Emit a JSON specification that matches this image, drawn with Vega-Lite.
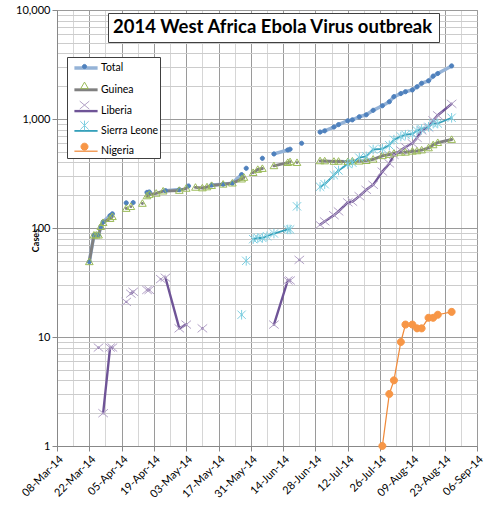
{
  "$schema": "https://vega.github.io/schema/vega-lite/v6.json",
  "width": 420,
  "height": 436,
  "autosize": "none",
  "padding": {"left": 57, "top": 10, "right": 23, "bottom": 60},
  "background": "white",
  "config": {"view": {"stroke": "#999999"}, "font": "Lato"},
  "data": {
    "values": [
      {"date": "2014/03/22", "series": "Total", "cases": 49},
      {"date": "2014/03/24", "series": "Total", "cases": 86},
      {"date": "2014/03/25", "series": "Total", "cases": 86},
      {"date": "2014/03/26", "series": "Total", "cases": 86},
      {"date": "2014/03/27", "series": "Total", "cases": 103},
      {"date": "2014/03/28", "series": "Total", "cases": 114},
      {"date": "2014/03/31", "series": "Total", "cases": 130},
      {"date": "2014/04/01", "series": "Total", "cases": 135},
      {"date": "2014/04/04", "series": "Total", "cases": null},
      {"date": "2014/04/07", "series": "Total", "cases": 170},
      {"date": "2014/04/08", "series": "Total", "cases": null},
      {"date": "2014/04/10", "series": "Total", "cases": 171},
      {"date": "2014/04/12", "series": "Total", "cases": null},
      {"date": "2014/04/16", "series": "Total", "cases": 212},
      {"date": "2014/04/17", "series": "Total", "cases": 214},
      {"date": "2014/04/20", "series": "Total", "cases": null},
      {"date": "2014/04/24", "series": "Total", "cases": 220},
      {"date": "2014/04/30", "series": "Total", "cases": 225},
      {"date": "2014/05/02", "series": "Total", "cases": null},
      {"date": "2014/05/04", "series": "Total", "cases": 243},
      {"date": "2014/05/07", "series": "Total", "cases": null},
      {"date": "2014/05/14", "series": "Total", "cases": 248},
      {"date": "2014/05/19", "series": "Total", "cases": 252},
      {"date": "2014/05/23", "series": "Total", "cases": 258},
      {"date": "2014/05/27", "series": "Total", "cases": 309},
      {"date": "2014/05/28", "series": "Total", "cases": null},
      {"date": "2014/05/29", "series": "Total", "cases": 353},
      {"date": "2014/05/31", "series": "Total", "cases": null},
      {"date": "2014/06/05", "series": "Total", "cases": 436},
      {"date": "2014/06/07", "series": "Total", "cases": null},
      {"date": "2014/06/10", "series": "Total", "cases": 478},
      {"date": "2014/06/16", "series": "Total", "cases": 520},
      {"date": "2014/06/17", "series": "Total", "cases": 528},
      {"date": "2014/06/18", "series": "Total", "cases": null},
      {"date": "2014/06/22", "series": "Total", "cases": 599},
      {"date": "2014/06/25", "series": "Total", "cases": null},
      {"date": "2014/06/30", "series": "Total", "cases": 759},
      {"date": "2014/07/02", "series": "Total", "cases": 779},
      {"date": "2014/07/06", "series": "Total", "cases": 844},
      {"date": "2014/07/08", "series": "Total", "cases": 888},
      {"date": "2014/07/12", "series": "Total", "cases": 964},
      {"date": "2014/07/14", "series": "Total", "cases": 982},
      {"date": "2014/07/17", "series": "Total", "cases": 1048},
      {"date": "2014/07/20", "series": "Total", "cases": 1093},
      {"date": "2014/07/23", "series": "Total", "cases": 1201},
      {"date": "2014/07/27", "series": "Total", "cases": 1323},
      {"date": "2014/07/30", "series": "Total", "cases": 1440},
      {"date": "2014/08/01", "series": "Total", "cases": 1603},
      {"date": "2014/08/04", "series": "Total", "cases": 1711},
      {"date": "2014/08/06", "series": "Total", "cases": 1779},
      {"date": "2014/08/09", "series": "Total", "cases": 1848},
      {"date": "2014/08/11", "series": "Total", "cases": 1975},
      {"date": "2014/08/13", "series": "Total", "cases": 2127},
      {"date": "2014/08/16", "series": "Total", "cases": 2240},
      {"date": "2014/08/18", "series": "Total", "cases": 2473},
      {"date": "2014/08/20", "series": "Total", "cases": 2615},
      {"date": "2014/08/26", "series": "Total", "cases": 3069},

      {"date": "2014/03/22", "series": "Guinea", "cases": 49},
      {"date": "2014/03/24", "series": "Guinea", "cases": 86},
      {"date": "2014/03/25", "series": "Guinea", "cases": 86},
      {"date": "2014/03/26", "series": "Guinea", "cases": 86},
      {"date": "2014/03/27", "series": "Guinea", "cases": 103},
      {"date": "2014/03/28", "series": "Guinea", "cases": 112},
      {"date": "2014/03/31", "series": "Guinea", "cases": 122},
      {"date": "2014/04/01", "series": "Guinea", "cases": 127},
      {"date": "2014/04/04", "series": "Guinea", "cases": null},
      {"date": "2014/04/07", "series": "Guinea", "cases": 151},
      {"date": "2014/04/08", "series": "Guinea", "cases": null},
      {"date": "2014/04/09", "series": "Guinea", "cases": 157},
      {"date": "2014/04/12", "series": "Guinea", "cases": null},
      {"date": "2014/04/14", "series": "Guinea", "cases": 168},
      {"date": "2014/04/15", "series": "Guinea", "cases": null},
      {"date": "2014/04/16", "series": "Guinea", "cases": 197},
      {"date": "2014/04/17", "series": "Guinea", "cases": 203},
      {"date": "2014/04/20", "series": "Guinea", "cases": 208},
      {"date": "2014/04/23", "series": "Guinea", "cases": 218},
      {"date": "2014/04/30", "series": "Guinea", "cases": 221},
      {"date": "2014/05/03", "series": "Guinea", "cases": 231},
      {"date": "2014/05/04", "series": "Guinea", "cases": null},
      {"date": "2014/05/07", "series": "Guinea", "cases": 236},
      {"date": "2014/05/10", "series": "Guinea", "cases": 233},
      {"date": "2014/05/12", "series": "Guinea", "cases": 238},
      {"date": "2014/05/14", "series": "Guinea", "cases": 245},
      {"date": "2014/05/19", "series": "Guinea", "cases": 252},
      {"date": "2014/05/23", "series": "Guinea", "cases": 258},
      {"date": "2014/05/27", "series": "Guinea", "cases": 281},
      {"date": "2014/05/28", "series": "Guinea", "cases": 291},
      {"date": "2014/05/29", "series": "Guinea", "cases": null},
      {"date": "2014/06/01", "series": "Guinea", "cases": 322},
      {"date": "2014/06/03", "series": "Guinea", "cases": 344},
      {"date": "2014/06/05", "series": "Guinea", "cases": 351},
      {"date": "2014/06/07", "series": "Guinea", "cases": null},
      {"date": "2014/06/10", "series": "Guinea", "cases": 372},
      {"date": "2014/06/16", "series": "Guinea", "cases": 398},
      {"date": "2014/06/17", "series": "Guinea", "cases": 405},
      {"date": "2014/06/18", "series": "Guinea", "cases": null},
      {"date": "2014/06/20", "series": "Guinea", "cases": 398},
      {"date": "2014/06/25", "series": "Guinea", "cases": null},
      {"date": "2014/06/30", "series": "Guinea", "cases": 413},
      {"date": "2014/07/02", "series": "Guinea", "cases": 412},
      {"date": "2014/07/06", "series": "Guinea", "cases": 408},
      {"date": "2014/07/08", "series": "Guinea", "cases": 409},
      {"date": "2014/07/12", "series": "Guinea", "cases": 406},
      {"date": "2014/07/14", "series": "Guinea", "cases": 411},
      {"date": "2014/07/17", "series": "Guinea", "cases": 410},
      {"date": "2014/07/20", "series": "Guinea", "cases": 415},
      {"date": "2014/07/23", "series": "Guinea", "cases": 427},
      {"date": "2014/07/27", "series": "Guinea", "cases": 460},
      {"date": "2014/07/30", "series": "Guinea", "cases": 472},
      {"date": "2014/08/01", "series": "Guinea", "cases": 485},
      {"date": "2014/08/04", "series": "Guinea", "cases": 495},
      {"date": "2014/08/06", "series": "Guinea", "cases": 495},
      {"date": "2014/08/09", "series": "Guinea", "cases": 506},
      {"date": "2014/08/11", "series": "Guinea", "cases": 510},
      {"date": "2014/08/13", "series": "Guinea", "cases": 519},
      {"date": "2014/08/16", "series": "Guinea", "cases": 543},
      {"date": "2014/08/18", "series": "Guinea", "cases": 579},
      {"date": "2014/08/20", "series": "Guinea", "cases": 607},
      {"date": "2014/08/26", "series": "Guinea", "cases": 648},

      {"date": "2014/03/26", "series": "Liberia", "cases": 8},
      {"date": "2014/03/27", "series": "Liberia", "cases": null},
      {"date": "2014/03/28", "series": "Liberia", "cases": 2},
      {"date": "2014/03/31", "series": "Liberia", "cases": 8},
      {"date": "2014/04/01", "series": "Liberia", "cases": 8},
      {"date": "2014/04/04", "series": "Liberia", "cases": null},
      {"date": "2014/04/07", "series": "Liberia", "cases": 21},
      {"date": "2014/04/08", "series": "Liberia", "cases": null},
      {"date": "2014/04/09", "series": "Liberia", "cases": 25},
      {"date": "2014/04/10", "series": "Liberia", "cases": 26},
      {"date": "2014/04/12", "series": "Liberia", "cases": null},
      {"date": "2014/04/16", "series": "Liberia", "cases": 27},
      {"date": "2014/04/17", "series": "Liberia", "cases": 27},
      {"date": "2014/04/20", "series": "Liberia", "cases": null},
      {"date": "2014/04/22", "series": "Liberia", "cases": 34},
      {"date": "2014/04/23", "series": "Liberia", "cases": null},
      {"date": "2014/04/24", "series": "Liberia", "cases": 35},
      {"date": "2014/04/30", "series": "Liberia", "cases": 12},
      {"date": "2014/05/03", "series": "Liberia", "cases": 13},
      {"date": "2014/05/04", "series": "Liberia", "cases": null},
      {"date": "2014/05/10", "series": "Liberia", "cases": 12},
      {"date": "2014/05/12", "series": "Liberia", "cases": null},
      {"date": "2014/06/10", "series": "Liberia", "cases": 13},
      {"date": "2014/06/16", "series": "Liberia", "cases": 33},
      {"date": "2014/06/17", "series": "Liberia", "cases": 33},
      {"date": "2014/06/18", "series": "Liberia", "cases": null},
      {"date": "2014/06/21", "series": "Liberia", "cases": 51},
      {"date": "2014/06/25", "series": "Liberia", "cases": null},
      {"date": "2014/06/30", "series": "Liberia", "cases": 107},
      {"date": "2014/07/02", "series": "Liberia", "cases": 115},
      {"date": "2014/07/06", "series": "Liberia", "cases": 131},
      {"date": "2014/07/08", "series": "Liberia", "cases": 142},
      {"date": "2014/07/12", "series": "Liberia", "cases": 172},
      {"date": "2014/07/14", "series": "Liberia", "cases": 174},
      {"date": "2014/07/17", "series": "Liberia", "cases": 196},
      {"date": "2014/07/20", "series": "Liberia", "cases": 224},
      {"date": "2014/07/23", "series": "Liberia", "cases": 249},
      {"date": "2014/07/27", "series": "Liberia", "cases": 329},
      {"date": "2014/07/30", "series": "Liberia", "cases": 391},
      {"date": "2014/08/01", "series": "Liberia", "cases": 468},
      {"date": "2014/08/04", "series": "Liberia", "cases": 516},
      {"date": "2014/08/06", "series": "Liberia", "cases": 554},
      {"date": "2014/08/09", "series": "Liberia", "cases": 599},
      {"date": "2014/08/11", "series": "Liberia", "cases": 670},
      {"date": "2014/08/13", "series": "Liberia", "cases": 786},
      {"date": "2014/08/16", "series": "Liberia", "cases": 834},
      {"date": "2014/08/18", "series": "Liberia", "cases": 972},
      {"date": "2014/08/20", "series": "Liberia", "cases": 1082},
      {"date": "2014/08/26", "series": "Liberia", "cases": 1378},

      {"date": "2014/05/27", "series": "Sierra Leone", "cases": 16},
      {"date": "2014/05/28", "series": "Sierra Leone", "cases": null},
      {"date": "2014/05/29", "series": "Sierra Leone", "cases": 50},
      {"date": "2014/05/31", "series": "Sierra Leone", "cases": null},
      {"date": "2014/06/01", "series": "Sierra Leone", "cases": 79},
      {"date": "2014/06/03", "series": "Sierra Leone", "cases": 81},
      {"date": "2014/06/05", "series": "Sierra Leone", "cases": 81},
      {"date": "2014/06/07", "series": "Sierra Leone", "cases": 84},
      {"date": "2014/06/10", "series": "Sierra Leone", "cases": 89},
      {"date": "2014/06/16", "series": "Sierra Leone", "cases": 97},
      {"date": "2014/06/17", "series": "Sierra Leone", "cases": 97},
      {"date": "2014/06/18", "series": "Sierra Leone", "cases": null},
      {"date": "2014/06/20", "series": "Sierra Leone", "cases": 158},
      {"date": "2014/06/25", "series": "Sierra Leone", "cases": null},
      {"date": "2014/06/30", "series": "Sierra Leone", "cases": 239},
      {"date": "2014/07/02", "series": "Sierra Leone", "cases": 252},
      {"date": "2014/07/06", "series": "Sierra Leone", "cases": 305},
      {"date": "2014/07/08", "series": "Sierra Leone", "cases": 337},
      {"date": "2014/07/12", "series": "Sierra Leone", "cases": 386},
      {"date": "2014/07/14", "series": "Sierra Leone", "cases": 397},
      {"date": "2014/07/17", "series": "Sierra Leone", "cases": 442},
      {"date": "2014/07/20", "series": "Sierra Leone", "cases": 454},
      {"date": "2014/07/23", "series": "Sierra Leone", "cases": 525},
      {"date": "2014/07/27", "series": "Sierra Leone", "cases": 533},
      {"date": "2014/07/30", "series": "Sierra Leone", "cases": 574},
      {"date": "2014/08/01", "series": "Sierra Leone", "cases": 646},
      {"date": "2014/08/04", "series": "Sierra Leone", "cases": 691},
      {"date": "2014/08/06", "series": "Sierra Leone", "cases": 717},
      {"date": "2014/08/09", "series": "Sierra Leone", "cases": 730},
      {"date": "2014/08/11", "series": "Sierra Leone", "cases": 783},
      {"date": "2014/08/13", "series": "Sierra Leone", "cases": 810},
      {"date": "2014/08/16", "series": "Sierra Leone", "cases": 848},
      {"date": "2014/08/18", "series": "Sierra Leone", "cases": 907},
      {"date": "2014/08/20", "series": "Sierra Leone", "cases": 910},
      {"date": "2014/08/26", "series": "Sierra Leone", "cases": 1026},

      {"date": "2014/07/27", "series": "Nigeria", "cases": 1},
      {"date": "2014/07/30", "series": "Nigeria", "cases": 3},
      {"date": "2014/08/01", "series": "Nigeria", "cases": 4},
      {"date": "2014/08/04", "series": "Nigeria", "cases": 9},
      {"date": "2014/08/06", "series": "Nigeria", "cases": 13},
      {"date": "2014/08/09", "series": "Nigeria", "cases": 13},
      {"date": "2014/08/11", "series": "Nigeria", "cases": 12},
      {"date": "2014/08/13", "series": "Nigeria", "cases": 12},
      {"date": "2014/08/16", "series": "Nigeria", "cases": 15},
      {"date": "2014/08/18", "series": "Nigeria", "cases": 15},
      {"date": "2014/08/20", "series": "Nigeria", "cases": 16},
      {"date": "2014/08/26", "series": "Nigeria", "cases": 17}
    ]
  },
  "layer": [
    {
      "mark": {"type": "line", "invalid": "break-paths-filter-domains", "strokeJoin": "round", "strokeCap": "round"},
      "encoding": {
        "x": {
          "field": "date", "type": "temporal",
          "scale": {"domain": [{"year": 2014, "month": 3, "date": 8}, {"year": 2014, "month": 9, "date": 6}]},
          "axis": {
            "orient": "bottom", "title": null, "labels": false, "ticks": false, "domain": false,
            "grid": true, "gridColor": "#d6d6d6", "gridWidth": 1,
            "values": [
              {"year": 2014, "month": 3, "date": 15}, {"year": 2014, "month": 3, "date": 29},
              {"year": 2014, "month": 4, "date": 12}, {"year": 2014, "month": 4, "date": 26},
              {"year": 2014, "month": 5, "date": 10}, {"year": 2014, "month": 5, "date": 24},
              {"year": 2014, "month": 6, "date": 7}, {"year": 2014, "month": 6, "date": 21},
              {"year": 2014, "month": 7, "date": 5}, {"year": 2014, "month": 7, "date": 19},
              {"year": 2014, "month": 8, "date": 2}, {"year": 2014, "month": 8, "date": 16},
              {"year": 2014, "month": 8, "date": 30}
            ]
          }
        },
        "y": {
          "field": "cases", "type": "quantitative",
          "scale": {"type": "log", "domain": [1, 10000]},
          "axis": {
            "orient": "left", "title": null, "labels": false, "ticks": false, "domain": false,
            "grid": true, "gridColor": "#cccccc", "gridWidth": 1,
            "values": [2, 3, 4, 5, 6, 7, 8, 9, 20, 30, 40, 50, 60, 70, 80, 90, 200, 300, 400, 500, 600, 700, 800, 900, 2000, 3000, 4000, 5000, 6000, 7000, 8000, 9000]
          }
        },
        "stroke": {
          "field": "series", "type": "nominal",
          "scale": {
            "domain": ["Total", "Guinea", "Liberia", "Sierra Leone", "Nigeria"],
            "range": ["#95B3D7", "#808080", "#6F5497", "#35A0BA", "#F08A3A"]
          },
          "legend": {
            "orient": "none", "legendX": 10, "legendY": 47, "title": null,
            "symbolType": "M-1.45,0H1.45", "symbolSize": 256, "symbolOffset": 8,
            "labelFont": "Lato", "labelFontSize": 10.5, "labelColor": "#000000", "labelOffset": 5,
            "strokeColor": "#404040", "fillColor": "white", "padding": 1, "rowPadding": 5.3
          }
        },
        "strokeWidth": {
          "field": "series", "type": "nominal",
          "scale": {
            "domain": ["Total", "Guinea", "Liberia", "Sierra Leone", "Nigeria"],
            "range": [3.5, 1.25, 3, 3, 1.75]
          },
          "legend": {
            "orient": "none", "legendX": 10, "legendY": 47, "title": null,
            "symbolType": "M-1.45,0H1.45", "symbolSize": 256, "symbolOffset": 8,
            "labelFont": "Lato", "labelFontSize": 10.5, "labelColor": "#000000", "labelOffset": 5,
            "strokeColor": "#404040", "fillColor": "white", "padding": 1, "rowPadding": 5.3
          }
        }
      }
    },
    {
      "mark": {"type": "point", "size": 256, "strokeWidth": 1, "opacity": 1},
      "encoding": {
        "x": {
          "field": "date", "type": "temporal",
          "scale": {"domain": [{"year": 2014, "month": 3, "date": 8}, {"year": 2014, "month": 9, "date": 6}]},
          "axis": {
            "orient": "bottom", "title": null, "format": "%d-%b-%y", "labelAngle": -45, "labelOverlap": false,
            "labelFont": "Lato", "labelFontSize": 11, "labelColor": "#000000",
            "grid": true, "gridColor": "#9a9a9a", "gridWidth": 1,
            "domainColor": "#888888", "tickColor": "#888888", "tickSize": 5,
            "values": [
              {"year": 2014, "month": 3, "date": 8}, {"year": 2014, "month": 3, "date": 22},
              {"year": 2014, "month": 4, "date": 5}, {"year": 2014, "month": 4, "date": 19},
              {"year": 2014, "month": 5, "date": 3}, {"year": 2014, "month": 5, "date": 17},
              {"year": 2014, "month": 5, "date": 31}, {"year": 2014, "month": 6, "date": 14},
              {"year": 2014, "month": 6, "date": 28}, {"year": 2014, "month": 7, "date": 12},
              {"year": 2014, "month": 7, "date": 26}, {"year": 2014, "month": 8, "date": 9},
              {"year": 2014, "month": 8, "date": 23}, {"year": 2014, "month": 9, "date": 6}
            ]
          }
        },
        "y": {
          "field": "cases", "type": "quantitative",
          "scale": {"type": "log", "domain": [1, 10000]},
          "axis": {
            "orient": "left", "title": "Cases", "format": ",d",
            "titleFont": "Lato", "titleFontSize": 9, "titleFontWeight": "bold", "titleColor": "#000000",
            "titleX": -22, "titleY": 230, "titleAngle": -90, "titleAlign": "center", "titleBaseline": "middle",
            "labelFont": "Lato", "labelFontSize": 11, "labelColor": "#000000",
            "grid": true, "gridColor": "#9a9a9a", "gridWidth": 1,
            "domainColor": "#888888", "tickColor": "#888888", "tickSize": 5,
            "values": [1, 10, 100, 1000, 10000]
          }
        },
        "shape": {
          "field": "series", "type": "nominal",
          "scale": {
            "domain": ["Total", "Guinea", "Liberia", "Sierra Leone", "Nigeria"],
            "range": [
              "M0.26,0A0.26,0.26,0,1,1,-0.26,0A0.26,0.26,0,1,1,0.26,0Z",
              "M0,-0.46L0.48,0.36L-0.48,0.36Z",
              "M-0.6,-0.5L0.6,0.5M-0.6,0.5L0.6,-0.5",
              "M-0.52,-0.52L0.52,0.52M-0.52,0.52L0.52,-0.52M0,-0.6L0,0.6",
              "M0.44,0A0.44,0.44,0,1,1,-0.44,0A0.44,0.44,0,1,1,0.44,0Z"
            ]
          },
          "legend": {
            "orient": "none", "legendX": 10, "legendY": 47, "title": null, "symbolSize": 256, "symbolOffset": 8,
            "labelFont": "Lato", "labelFontSize": 10.5, "labelExpr": "''", "labelOffset": 5,
            "padding": 1, "rowPadding": 5.3, "symbolStrokeWidth": 1
          }
        },
        "fill": {
          "field": "series", "type": "nominal",
          "scale": {
            "domain": ["Total", "Guinea", "Liberia", "Sierra Leone", "Nigeria"],
            "range": ["#4F81BD", "transparent", "transparent", "transparent", "#F79646"]
          },
          "legend": {
            "orient": "none", "legendX": 10, "legendY": 47, "title": null, "symbolSize": 256, "symbolOffset": 8,
            "labelFont": "Lato", "labelFontSize": 10.5, "labelExpr": "''", "labelOffset": 5,
            "padding": 1, "rowPadding": 5.3, "symbolStrokeWidth": 1
          }
        },
        "stroke": {
          "field": "series", "type": "nominal",
          "scale": {
            "domain": ["Total", "Guinea", "Liberia", "Sierra Leone", "Nigeria"],
            "range": ["#4F81BD", "#9BBB59", "#B3A2C7", "#7ECFE1", "#F79646"]
          },
          "legend": {
            "orient": "none", "legendX": 10, "legendY": 47, "title": null, "symbolSize": 256, "symbolOffset": 8,
            "labelFont": "Lato", "labelFontSize": 10.5, "labelExpr": "''", "labelOffset": 5,
            "padding": 1, "rowPadding": 5.3, "symbolStrokeWidth": 1
          }
        }
      }
    },
    {
      "transform": [{"filter": "datum.cases < 0"}],
      "mark": {"type": "point"},
      "encoding": {
        "opacity": {
          "field": "series", "type": "nominal",
          "scale": {"domain": ["title"], "range": [1]},
          "legend": {
            "orient": "none", "legendX": 51, "legendY": 3, "values": [],
            "title": "2014 West Africa Ebola Virus outbreak",
            "titleFont": "Lato", "titleFontSize": 18.5, "titleFontWeight": "bold", "titleColor": "#000000",
            "titlePadding": 0, "titleLimit": 400,
            "strokeColor": "#404040", "fillColor": "white", "padding": 5
          }
        }
      }
    }
  ],
  "resolve": {
    "scale": {"stroke": "independent", "strokeWidth": "independent", "shape": "independent", "fill": "independent"},
    "legend": {"stroke": "independent", "strokeWidth": "independent", "shape": "independent", "fill": "independent"},
    "axis": {"x": "independent", "y": "independent"}
  }
}
